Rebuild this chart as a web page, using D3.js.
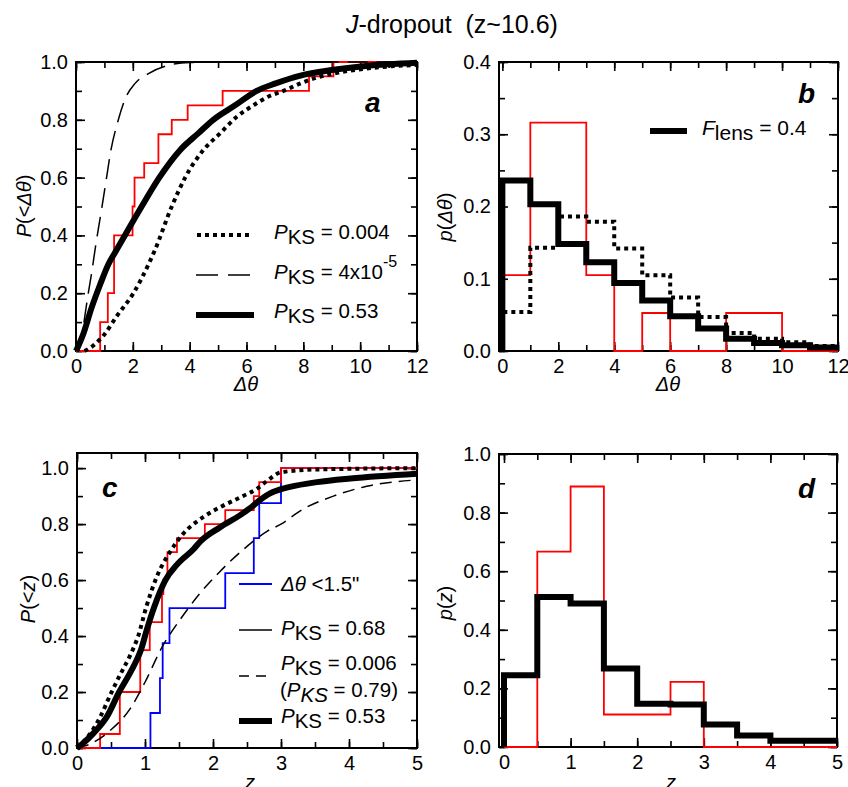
<!DOCTYPE html>
<html><head><meta charset="utf-8">
<script src="https://cdn.jsdelivr.net/npm/d3@7"></script>
<style>body{margin:0;background:#fff} svg{display:block} text{font-family:"Liberation Sans",Arial,Helvetica,sans-serif}</style>
</head><body><svg id="chart" width="848" height="787"></svg>
<script>
// ---------------- DATA ----------------
// panel a : cumulative distribution of separations
const aXTicks = [0, 2, 4, 6, 8, 10, 12];
const aYTicks = [0, 0.2, 0.4, 0.6, 0.8, 1.0];
const aRedCDF = [[0,0],[0.85,0.1],[1.12,0.2],[1.34,0.4],[1.99,0.5],[2.06,0.6],[2.4,0.65],[2.9,0.75],[3.37,0.8],[3.93,0.85],[5.16,0.9],[8.2,0.95],[9.06,1.0],[12,1.0]];
const aDotted = [[0.3,0],[0.6,0.018],[0.84,0.04],[1.02,0.06],[1.43,0.12],[2.02,0.2],[2.6,0.31],[2.78,0.35],[3.37,0.5],[3.84,0.6],[4.48,0.695],[5.07,0.753],[5.65,0.81],[6.24,0.85],[6.76,0.88],[7.3,0.9],[7.88,0.925],[8.47,0.946],[9.06,0.96],[10.2,0.977],[12,0.99]];
const aDashed = [[0.1,0],[0.25,0.08],[0.4,0.18],[0.55,0.27],[0.7,0.37],[0.9,0.49],[1.06,0.59],[1.22,0.69],[1.49,0.8],[1.72,0.87],[2.08,0.926],[2.55,0.96],[3.31,0.99],[4.0,0.998],[6,1.0],[12,1.0]];
const aThick = [[0,0],[0.26,0.06],[0.55,0.15],[0.85,0.23],[1.14,0.3],[1.43,0.35],[1.72,0.4],[2.31,0.5],[2.93,0.6],[3.66,0.695],[4.3,0.753],[4.83,0.8],[5.6,0.85],[6.36,0.9],[7.0,0.925],[7.9,0.953],[9.0,0.972],[10.2,0.986],[12,0.997]];
const aLegend = ["0.004", "4x10", "0.53"];

// panel b : separation histograms
const bXTicks = [0, 2, 4, 6, 8, 10, 12];
const bYTicks = [0, 0.1, 0.2, 0.3, 0.4];
const bEdges = [0,1,2,3,4,5,6,7,8,9,10,11,12];
const bThick = [0.236,0.203,0.148,0.123,0.094,0.070,0.048,0.031,0.017,0.011,0.008,0.005];
const bDotted = [0.054,0.143,0.186,0.179,0.142,0.105,0.074,0.047,0.025,0.017,0.012,0.007];
const bRed = [0.105,0.316,0.316,0.105,0,0.0526,0,0,0.0526,0.0526,0,0];

// panel c : cumulative redshift distribution
const cXTicks = [0, 1, 2, 3, 4, 5];
const cYTicks = [0, 0.2, 0.4, 0.6, 0.8, 1.0];
const cRedCDF = [[0,0],[0.34,0.05],[0.63,0.2],[0.93,0.35],[1.07,0.45],[1.25,0.55],[1.27,0.6],[1.33,0.7],[1.47,0.75],[1.88,0.8],[2.18,0.85],[2.6,0.9],[2.68,0.95],[3.0,1.0],[5,1.0]];
const cBlueCDF = [[0,0],[1.08,0.125],[1.22,0.25],[1.26,0.375],[1.36,0.5],[2.18,0.625],[2.6,0.75],[2.68,0.875],[3.0,1.0],[5,1.0]];
const cDotted = [[0,0],[0.19,0.05],[0.34,0.11],[0.49,0.19],[0.63,0.26],[0.78,0.33],[0.9,0.4],[1.02,0.505],[1.17,0.61],[1.367,0.7],[1.56,0.765],[1.855,0.825],[2.15,0.866],[2.44,0.9],[2.64,0.925],[2.8,0.955],[3.0,0.985],[3.5,0.995],[5,1.0]];
const cDashed = [[0,0],[0.2,0.015],[0.5,0.065],[0.78,0.14],[1.0,0.235],[1.25,0.36],[1.52,0.46],[1.8,0.55],[2.1,0.63],[2.45,0.71],[2.8,0.775],[3.0,0.8],[3.3,0.85],[3.77,0.9],[4.26,0.935],[5,0.958]];
const cThick = [[0,0],[0.09,0.017],[0.25,0.055],[0.44,0.112],[0.62,0.2],[0.75,0.255],[0.853,0.302],[0.94,0.35],[1.025,0.421],[1.13,0.5],[1.3,0.6],[1.47,0.655],[1.72,0.712],[1.81,0.737],[2.1,0.788],[2.4,0.832],[2.54,0.856],[2.69,0.886],[2.84,0.91],[2.99,0.924],[3.13,0.933],[3.53,0.95],[4.02,0.963],[5,0.98]];
const cLegend = ["<1.5\"", "0.68", "0.006", "0.79", "0.53"];

// panel d : redshift histograms
const dXTicks = [0, 1, 2, 3, 4, 5];
const dYTicks = [0, 0.2, 0.4, 0.6, 0.8, 1.0];
const dEdges = [0,0.5,1,1.5,2,2.5,3,3.5,4,4.5,5];
const dRed = [0,0.667,0.889,0.111,0.111,0.222,0,0,0,0];
const dThick = [0.245,0.512,0.49,0.268,0.148,0.145,0.077,0.039,0.021,0.021];

// ---------------- DRAWING ----------------
const svg = d3.select("#chart");
const FONT = '"Liberation Sans", Arial, Helvetica, sans-serif';
const RED = "#ff0000", BLUE = "#0000ff";

function rich(g, x, y, segs, size, anchor) {
  const t = g.append("text").attr("x", x).attr("y", y).attr("font-size", size)
    .attr("text-anchor", anchor || "start").attr("fill", "#000").style("white-space", "pre");
  let shift = 0;
  segs.forEach(s => {
    const ts = t.append("tspan").text(s.t);
    const target = s.dy || 0;
    if (target - shift !== 0) ts.attr("dy", target - shift);
    shift = target;
    if (s.i) ts.attr("font-style", "italic");
    if (s.fs) ts.attr("font-size", s.fs);
  });
  return t;
}

function panel(o) {
  const x = d3.scaleLinear().domain(o.xd).range([o.x0, o.x1]);
  const y = d3.scaleLinear().domain(o.yd).range([o.y1, o.y0]);
  const g = svg.append("g");
  const fmtY = d3.format(".1f");
  const styleAxis = (a) => {
    a.select(".domain").remove();
    a.selectAll("line").attr("stroke", "#000").attr("stroke-width", 1.6);
    a.selectAll("text").attr("font-size", 20).attr("font-family", FONT).attr("fill", "#000");
  };
  const add = (axis, tr, vals, size, fmt) => {
    const a = g.append("g").attr("transform", tr)
      .call(axis.tickValues(vals).tickSize(size).tickFormat(fmt).tickPadding(8));
    styleAxis(a);
  };
  const MAJ = -9, MIN = -6;
  // minor ticks
  add(d3.axisBottom(x), `translate(0,${o.y1})`, o.xMinor, MIN, "");
  add(d3.axisTop(x), `translate(0,${o.y0})`, o.xMinor, MIN, "");
  add(d3.axisLeft(y), `translate(${o.x0},0)`, o.yMinor, MIN, "");
  add(d3.axisRight(y), `translate(${o.x1},0)`, o.yMinor, MIN, "");
  // major ticks
  add(d3.axisBottom(x).tickPadding(7), `translate(0,${o.y1})`, o.xTicks, MAJ, d3.format("d"));
  add(d3.axisTop(x), `translate(0,${o.y0})`, o.xTicks, MAJ, "");
  add(d3.axisLeft(y), `translate(${o.x0},0)`, o.yTicks, MAJ, fmtY);
  add(d3.axisRight(y), `translate(${o.x1},0)`, o.yTicks, MAJ, "");
  g.append("rect").attr("x", o.x0).attr("y", o.y0).attr("width", o.x1 - o.x0).attr("height", o.y1 - o.y0)
    .attr("fill", "none").attr("stroke", "#000").attr("stroke-width", 2);
  return {g, x, y};
}

function drawLine(p, data, style, curve) {
  const line = d3.line().x(d => p.x(d[0])).y(d => p.y(d[1])).curve(curve || d3.curveMonotoneX);
  const path = p.g.append("path").datum(data).attr("d", line).attr("fill", "none")
    .attr("stroke", style.c || "#000").attr("stroke-width", style.w || 1.5)
    .attr("stroke-linejoin", "miter").attr("stroke-linecap", "butt");
  if (style.dash) path.attr("stroke-dasharray", style.dash);
  return path;
}
function histPts(edges, vals) {
  const pts = [[edges[0], 0]];
  vals.forEach((v, i) => pts.push([edges[i], v]));
  pts.push([edges[edges.length - 1], vals[vals.length - 1]]);
  return pts;
}
function legLine(g, x0, x1, y, style) {
  const l = g.append("line").attr("x1", x0).attr("x2", x1).attr("y1", y).attr("y2", y)
    .attr("stroke", style.c || "#000").attr("stroke-width", style.w || 1.5);
  if (style.dash) l.attr("stroke-dasharray", style.dash);
}
function panelLabel(g, x, y, t) {
  g.append("text").attr("x", x).attr("y", y).attr("font-size", 28).attr("font-weight", "bold")
    .attr("font-style", "italic").text(t);
}
function yTitle(x, y, segs) {
  rich(svg, 0, 0, segs, 20, "middle").attr("transform", `translate(${x},${y}) rotate(-90)`);
}

// Title
rich(svg, 452, 33, [{t: "J", i: 1}, {t: "-dropout  (z~10.6)"}], 25, "middle");

// ---- panel a
const pa = panel({xd: [0, 12], yd: [0, 1], x0: 76, x1: 417, y0: 62, y1: 351,
  xTicks: aXTicks, yTicks: aYTicks, xMinor: d3.range(0, 12.001, 1), yMinor: d3.range(0, 1.0001, 0.1)});
drawLine(pa, aRedCDF, {c: RED, w: 1.8}, d3.curveStepAfter);
drawLine(pa, aDashed, {w: 1.5, dash: "20,9"});
drawLine(pa, aDotted, {w: 4, dash: "4,4"});
drawLine(pa, aThick, {w: 6});
panelLabel(pa.g, 365, 112, "a");
legLine(pa.g, 197, 253, 235, {w: 4, dash: "4,4"});
legLine(pa.g, 196, 252, 275, {w: 1.5, dash: "22,10"});
legLine(pa.g, 196, 254, 315, {w: 6});
const PKS = [{t: "P", i: 1}, {t: "KS", dy: 5}];
rich(pa.g, 274, 239, [...PKS, {t: " = " + aLegend[0], dy: 0}], 20.5);
rich(pa.g, 274, 279, [...PKS, {t: " = " + aLegend[1], dy: 0}, {t: "-5", dy: -12, fs: 16}], 20.5);
rich(pa.g, 274, 318, [...PKS, {t: " = " + aLegend[2], dy: 0}], 20.5);
yTitle(31, 206, [{t: "P", i: 1}, {t: "(<"}, {t: "Δθ", i: 1}, {t: ")"}]);
rich(svg, 246, 391, [{t: "Δθ", i: 1}], 20, "middle");

// ---- panel b
const pb = panel({xd: [-0.12, 12], yd: [0, 0.4], x0: 499, x1: 838, y0: 62, y1: 351,
  xTicks: bXTicks, yTicks: bYTicks, xMinor: d3.range(0, 12.001, 1), yMinor: d3.range(0, 0.4001, 0.05)});
drawLine(pb, histPts(bEdges, bRed), {c: RED, w: 1.8}, d3.curveStepAfter);
drawLine(pb, histPts(bEdges, bDotted), {w: 4, dash: "4,4"}, d3.curveStepAfter);
drawLine(pb, histPts(bEdges, bThick), {w: 6}, d3.curveStepAfter);
panelLabel(pb.g, 798, 103, "b");
legLine(pb.g, 650, 687, 131, {w: 6});
rich(pb.g, 702, 135, [{t: "F", i: 1}, {t: "lens", dy: 5}, {t: " = 0.4", dy: 0}], 21);
yTitle(452, 217, [{t: "p", i: 1}, {t: "("}, {t: "Δθ", i: 1}, {t: ")"}]);
rich(svg, 668, 391, [{t: "Δθ", i: 1}], 20, "middle");

// ---- panel c
const pc = panel({xd: [0, 5], yd: [0, 1.054], x0: 77, x1: 417, y0: 453, y1: 748,
  xTicks: cXTicks, yTicks: cYTicks, xMinor: d3.range(0, 5.001, 0.5), yMinor: d3.range(0, 1.0001, 0.1)});
drawLine(pc, cBlueCDF, {c: BLUE, w: 1.8}, d3.curveStepAfter);
drawLine(pc, cRedCDF, {c: RED, w: 1.8}, d3.curveStepAfter);
drawLine(pc, cDashed, {w: 1.5, dash: "12,7"});
drawLine(pc, cDotted, {w: 4, dash: "4,4"});
drawLine(pc, cThick, {w: 6});
panelLabel(pc.g, 102, 497, "c");
legLine(pc.g, 239, 272, 584, {c: BLUE, w: 1.8});
rich(pc.g, 281, 591, [{t: "Δθ", i: 1}, {t: " " + cLegend[0]}], 20.5);
legLine(pc.g, 239, 272, 630, {w: 1.5});
rich(pc.g, 281, 635, [...PKS, {t: " = " + cLegend[1], dy: 0}], 20.5);
legLine(pc.g, 239, 272, 676, {w: 1.5, dash: "10,7"});
rich(pc.g, 281, 670, [...PKS, {t: " = " + cLegend[2], dy: 0}], 20.5);
rich(pc.g, 280, 697, [{t: "("}, {t: "P", i: 1}, {t: "KS", i: 1, dy: 5}, {t: " = " + cLegend[3] + ")", dy: 0}], 20.5);
legLine(pc.g, 239, 272, 721, {w: 6});
rich(pc.g, 281, 723, [...PKS, {t: " = " + cLegend[4], dy: 0}], 20.5);
yTitle(35, 599, [{t: "P", i: 1}, {t: "(<"}, {t: "z", i: 1}, {t: ")"}]);
rich(svg, 250, 789, [{t: "z", i: 1}], 20, "middle");

// ---- panel d
const pd = panel({xd: [-0.075, 5], yd: [0, 1], x0: 499, x1: 837, y0: 454, y1: 747,
  xTicks: dXTicks, yTicks: dYTicks, xMinor: d3.range(0, 5.001, 0.5), yMinor: d3.range(0, 1.0001, 0.1)});
drawLine(pd, histPts(dEdges, dRed), {c: RED, w: 1.8}, d3.curveStepAfter);
drawLine(pd, histPts(dEdges, dThick), {w: 6}, d3.curveStepAfter);
panelLabel(pd.g, 798, 498, "d");
yTitle(452, 603, [{t: "p", i: 1}, {t: "("}, {t: "z", i: 1}, {t: ")"}]);
rich(svg, 671, 789, [{t: "z", i: 1}], 20, "middle");
</script></body></html>
